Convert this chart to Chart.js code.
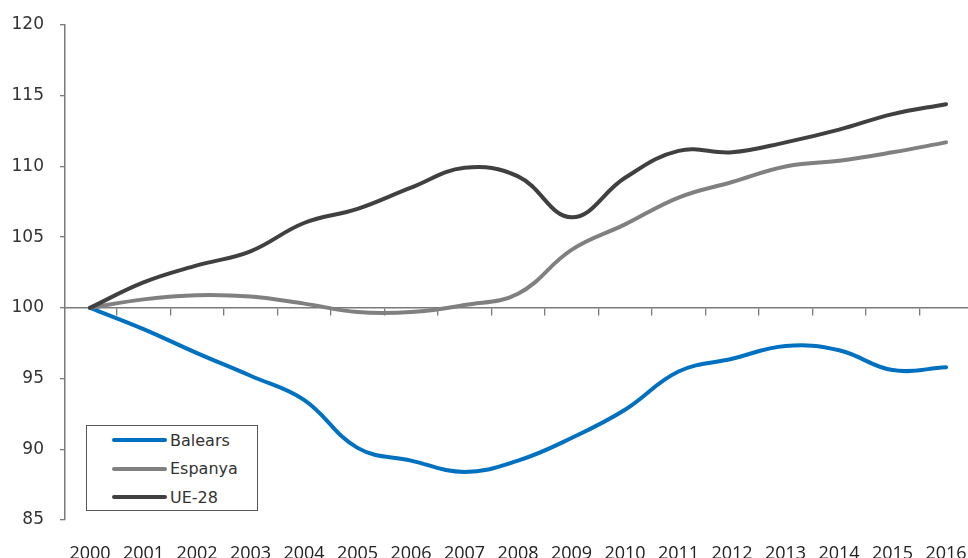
<!DOCTYPE html>
<html>
<head>
<meta charset="utf-8">
<script src="https://cdn.jsdelivr.net/npm/chart.js@4/dist/chart.umd.min.js"></script>
<style>
  html, body { margin: 0; padding: 0; background: #ffffff; }
  #wrap { position: relative; width: 968px; height: 558px; overflow: hidden; }
  #legend { position: absolute; left: 86px; top: 425px; width: 172px; height: 86px;
    border: 1px solid #555; background: #fff; box-sizing: border-box;
    font-family: "DejaVu Sans", sans-serif; font-size: 16px; color: #333; }
  .row { position: absolute; left: 25px; height: 20px; display: flex; align-items: center; }
  .sw { width: 55px; height: 4px; border-radius: 2px; margin-right: 3px; }
</style>
</head>
<body>
<div id="wrap">
  <canvas id="c" width="968" height="558"></canvas>
  <div id="legend"></div>
</div>
<script>
const years = ['2000','2001','2002','2003','2004','2005','2006','2007','2008','2009','2010','2011','2012','2013','2014','2015','2016'];
const balears = [100, 98.5, 96.8, 95.2, 93.5, 90.1, 89.2, 88.4, 89.2, 90.8, 92.8, 95.5, 96.4, 97.3, 97.0, 95.6, 95.8];
const espanya = [100, 100.6, 100.9, 100.8, 100.3, 99.7, 99.7, 100.2, 101.0, 104.1, 105.9, 107.8, 108.9, 110.0, 110.4, 111.0, 111.7];
const ue28 = [100, 101.8, 103.0, 104.0, 106.0, 107.0, 108.5, 109.9, 109.3, 106.4, 109.2, 111.1, 111.0, 111.7, 112.6, 113.7, 114.4];
const seriesNames = ['Balears', 'Espanya', 'UE-28'];
const seriesColors = ['#0070C0', '#808080', '#404040'];
const yTicks = [85, 90, 95, 100, 105, 110, 115, 120];

const toPts = arr => arr.map((v, i) => ({ x: i, y: v }));
const seriesData = [balears, espanya, ue28];

const datasets = seriesData.map((arr, k) => ({
  label: seriesNames[k],
  data: toPts(arr),
  borderColor: seriesColors[k],
  backgroundColor: seriesColors[k],
  borderWidth: 4,
  pointRadius: 0,
  tension: 0.4,
  borderCapStyle: 'round',
  borderJoinStyle: 'round',
  fill: false,
  order: 2 - k,
  xAxisID: 'x',
  yAxisID: 'y'
}));

const xMin = -0.467, xMax = 16.41;
const noPad = s => { s.paddingLeft = 0; s.paddingRight = 0; s.paddingTop = 0; s.paddingBottom = 0; };

new Chart(document.getElementById('c'), {
  type: 'line',
  data: { datasets },
  options: {
    responsive: false,
    animation: false,
    devicePixelRatio: 1,
    layout: { padding: { top: 25, right: 0, left: 0, bottom: 0 } },
    plugins: { legend: { display: false }, tooltip: { enabled: false } },
    scales: {
      x: {
        type: 'linear', position: 'bottom', min: xMin, max: xMax,
        afterBuildTicks: s => { s.ticks = years.map((_, i) => ({ value: i })); },
        afterFit: s => { s.height = 38; noPad(s); },
        ticks: {
          callback: v => years[v] ?? '',
          autoSkip: false, maxRotation: 0,
          font: { family: "'Liberation Sans Narrow', 'Open Sans'", size: 18 }, color: '#222', padding: 15
        },
        grid: { display: false },
        border: { display: false }
      },
      x2: {
        type: 'linear', axis: 'x', position: { y: 100 }, min: xMin, max: xMax,
        afterBuildTicks: s => { s.ticks = years.slice(1).map((_, i) => ({ value: i + 0.5 })); },
        afterFit: s => { noPad(s); },
        ticks: { display: false },
        grid: { drawOnChartArea: false, drawTicks: true, tickLength: 7, color: '#7a7a7a', lineWidth: 1.3 },
        border: { display: true, color: '#7a7a7a', width: 1.5 }
      },
      y: {
        type: 'linear', position: 'left', min: 85, max: 120,
        afterBuildTicks: s => { s.ticks = yTicks.map(v => ({ value: v })); },
        afterFit: s => { s.width = 65; noPad(s); },
        ticks: { font: { family: 'DejaVu Sans', size: 17 }, color: '#333', padding: 16 },
        grid: { drawOnChartArea: false, drawTicks: true, tickLength: 5, color: '#7a7a7a', lineWidth: 1.3 },
        border: { display: true, color: '#7a7a7a', width: 1.5 }
      }
    }
  }
});

const lg = document.getElementById('legend');
seriesNames.forEach((n, k) => {
  const r = document.createElement('div');
  r.className = 'row';
  r.style.top = (4 + k * 28.5) + 'px';
  r.innerHTML = '<div class="sw" style="background:' + seriesColors[k] + '"></div><span>' + n + '</span>';
  lg.appendChild(r);
});
</script>
</body>
</html>
